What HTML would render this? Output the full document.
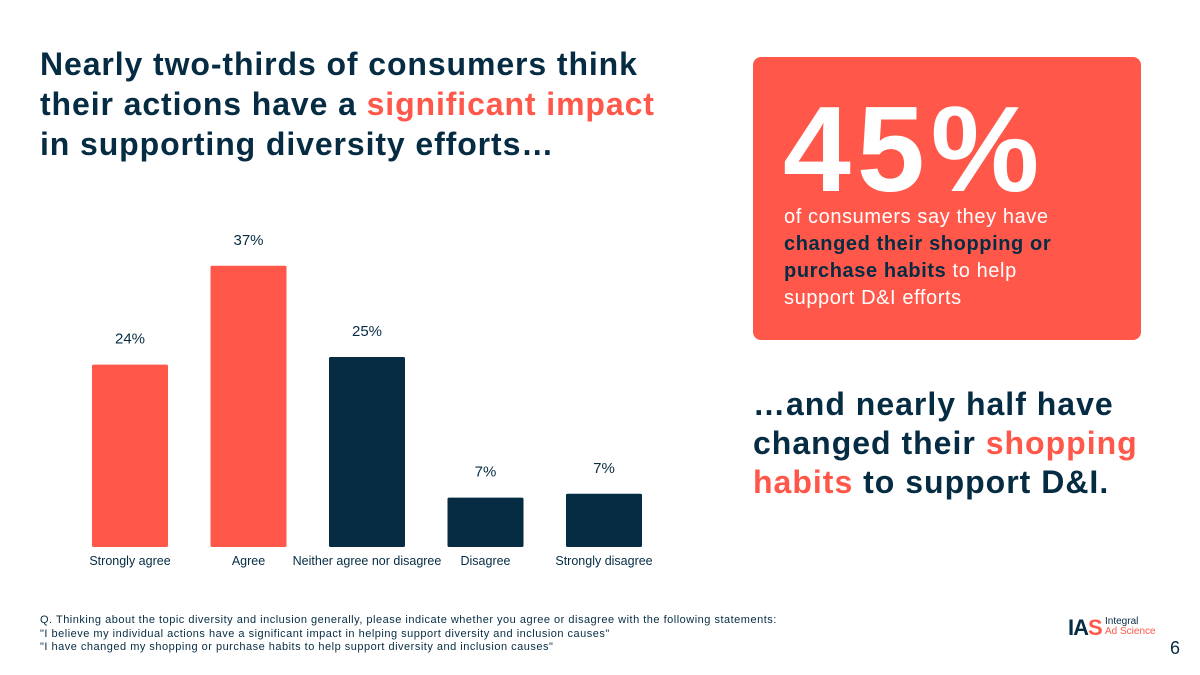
<!DOCTYPE html>
<html><head><meta charset="utf-8"><style>
body{margin:0;width:1200px;height:675px;background:#fff;font-family:"Liberation Sans",sans-serif;position:relative;overflow:hidden;color:#062c43}
.abs{position:absolute}
h1{position:absolute;left:40px;top:44px;margin:0;font-size:32px;line-height:40px;font-weight:bold;color:#062c43;letter-spacing:0.9px}
.red{color:#ff584a}
</style></head><body>
<h1>Nearly two-thirds of consumers think<br>their actions have a <span class="red">significant impact</span><br>in supporting diversity efforts…</h1>
<svg class="abs" style="left:0;top:0" width="700" height="600" id="chart"></svg>
<div class="abs" style="left:753px;top:57px;width:388px;height:283px;background:#ff584a;border-radius:8px">
 <div class="abs" style="left:30px;top:22px;font-size:122px;font-weight:bold;color:#fff;letter-spacing:6px;line-height:140px">45%</div>
 <div class="abs" style="left:31px;top:147px;font-size:20px;line-height:27px;color:#fff;width:300px;letter-spacing:0.6px">of consumers say they have <b style="color:#062c43">changed their shopping or purchase habits</b> to help support D&amp;I efforts</div>
</div>
<div class="abs" style="left:753px;top:385px;font-size:32px;line-height:39px;font-weight:bold;color:#062c43;letter-spacing:1px">…and nearly half have<br>changed their <span class="red">shopping</span><br><span class="red">habits</span> to support D&amp;I.</div>
<div class="abs" style="left:40px;top:614px;font-size:11px;line-height:13.5px;color:#062c43;letter-spacing:0.5px">Q. Thinking about the topic diversity and inclusion generally, please indicate whether you agree or disagree with the following statements:<br>"I believe my individual actions have a significant impact in helping support diversity and inclusion causes"<br>"I have changed my shopping or purchase habits to help support diversity and inclusion causes"</div>
<div class="abs" style="left:1068px;top:615px;">
 <span style="font-size:22px;font-weight:bold;color:#062c43;letter-spacing:-1px">IA<span style="color:#ff584a">S</span></span>
 <span class="abs" style="left:37px;top:2px;font-size:10px;line-height:10px;color:#062c43;white-space:nowrap">Integral<br><span style="color:#ff584a">Ad Science</span></span>
</div>
<div class="abs" style="left:1170px;top:638px;font-size:18px;color:#062c43">6</div>
<script>
const categories=["Strongly agree","Agree","Neither agree nor disagree","Disagree","Strongly disagree"];
const values=[24,37,25,6.5,7];
const valueLabels=["24%","37%","25%","7%","7%"];
const colors=["#ff584a","#ff584a","#062c43","#062c43","#062c43"];
const svg=document.getElementById('chart');const NS="http://www.w3.org/2000/svg";
const base=547,scale=7.6,x0=92,step=118.5,bw=76;
const y=v=>base-v*scale, x=i=>x0+i*step;
categories.forEach((c,i)=>{
 const r=document.createElementNS(NS,'rect');
 r.setAttribute('x',x(i));r.setAttribute('y',y(values[i]));r.setAttribute('width',bw);r.setAttribute('height',base-y(values[i]));r.setAttribute('fill',colors[i]);r.setAttribute('rx',1.5);
 
 
 svg.appendChild(r);
 const t=document.createElementNS(NS,'text');
 t.setAttribute('x',x(i)+bw/2);t.setAttribute('y',y(values[i])-21);t.setAttribute('text-anchor','middle');t.setAttribute('font-size','15');t.setAttribute('fill','#062c43');t.textContent=valueLabels[i];
 
 
 svg.appendChild(t);
 const l=document.createElementNS(NS,'text');
 l.setAttribute('x',x(i)+bw/2);l.setAttribute('y',565);l.setAttribute('text-anchor','middle');l.setAttribute('font-size','12.5');l.setAttribute('fill','#062c43');l.textContent=c;
 
 
 svg.appendChild(l);
});
</script>
</body></html>
